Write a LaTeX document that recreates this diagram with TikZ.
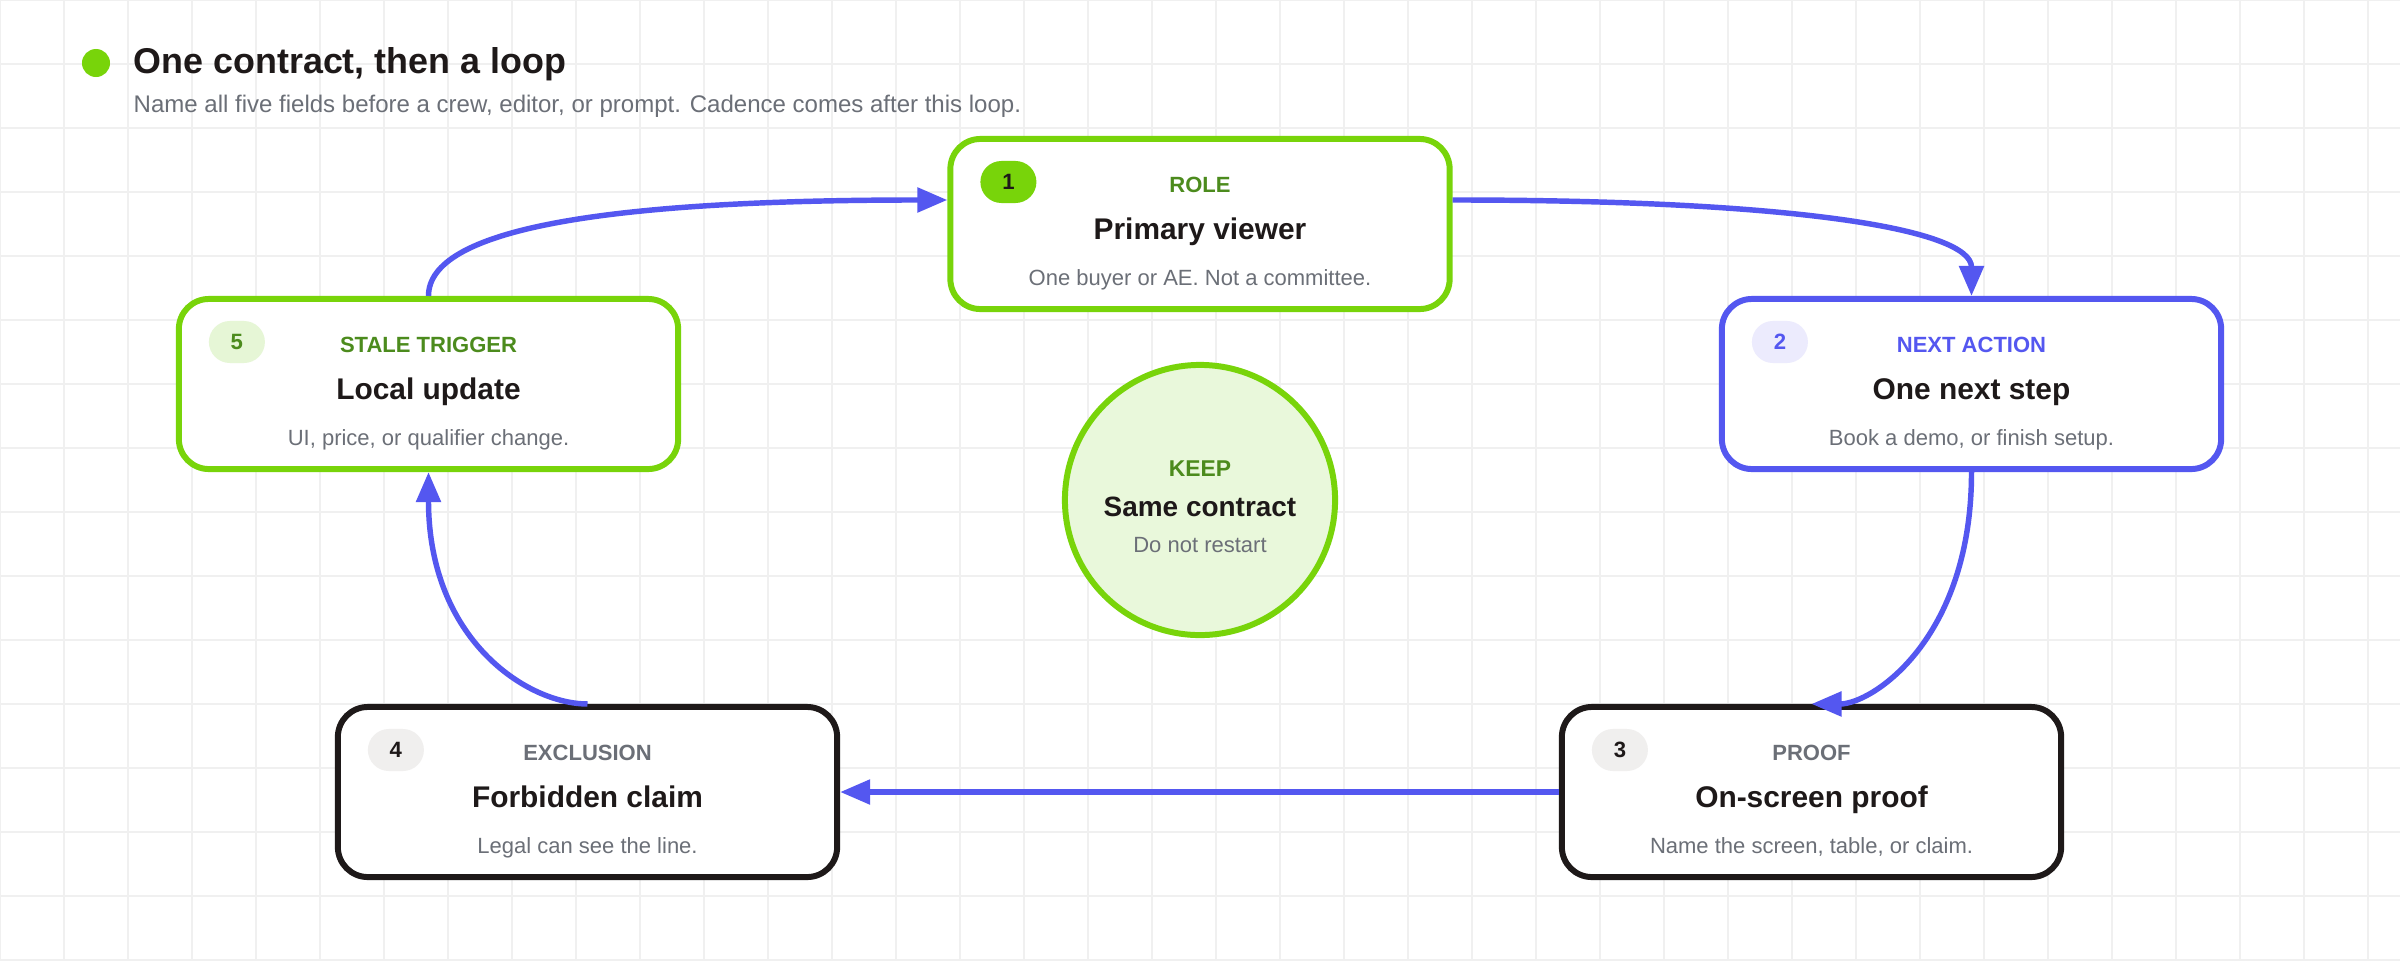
\documentclass[tikz,border=0pt]{standalone}
\usepackage{fontspec}
\setmainfont{Liberation Sans}
\usepackage{xcolor}
\usetikzlibrary{arrows.meta}

\definecolor{LoopGreen}{HTML}{78D40A}
\definecolor{LeafGreen}{HTML}{4C8B1D}
\definecolor{PaleGreen}{HTML}{E9F8DB}
\definecolor{BadgeGreen}{HTML}{E6F6D6}
\definecolor{Flow}{HTML}{5457F0}
\definecolor{PaleFlow}{HTML}{ECEBFD}
\definecolor{Ink}{HTML}{1E1919}
\definecolor{Muted}{HTML}{6B6F77}
\definecolor{PaleInk}{HTML}{F0EFEE}
\definecolor{Grid}{HTML}{F0F0F0}

\begin{document}
\begin{tikzpicture}[x=0.01cm, y=-0.01cm,
	card/.style={draw, line width=1.7pt, rounded corners=0.3cm, fill=white, minimum width=4.99cm, minimum height=1.70cm, inner sep=0},
	badge/.style={rounded corners=0.21cm, minimum width=0.56cm, minimum height=0.42cm, inner sep=0, font=\fontsize{6.3}{7}\selectfont\bfseries},
	tag/.style={anchor=base, inner sep=0, font=\fontsize{6.26}{7}\selectfont\bfseries},
	head/.style={anchor=base, inner sep=0, text=Ink, font=\fontsize{8.5}{10}\selectfont\bfseries},
	note/.style={anchor=base, inner sep=0, text=Muted, font=\fontsize{6.26}{7}\selectfont},
	flow/.style={draw=Flow, line width=1.55pt, -{Triangle[length=0.3cm,width=0.24cm]}}]
% background and grid
\useasboundingbox (0,0) rectangle (2400,960);
\fill[white] (0,0) rectangle (2400,960);
\foreach \gx in {0,64,...,2400} \draw[Grid, line width=0.35pt] (\gx,0) -- (\gx,960);
\foreach \gy in {0,64,...,960} \draw[Grid, line width=0.35pt] (0,\gy) -- (2400,\gy);
% title
\node[circle, fill=LoopGreen, minimum size=0.28cm, inner sep=0] (dot) at (96,63) {};
\node[anchor=base west, inner sep=0, text=Ink, font=\fontsize{10.2}{12}\selectfont\bfseries] (title) at (133,73) {One contract, then a loop};
\node[anchor=base west, inner sep=0, text=Muted, font=\fontsize{6.83}{8}\selectfont] (subtitle) at (133,112) {Name all five fields before a crew, editor, or prompt. Cadence comes after this loop.};
% role
\node[card, draw=LoopGreen] (role) at (1200,224) {};
\node[badge, fill=LoopGreen, text=Ink] (role-num) at ([xshift=0.61cm,yshift=-0.46cm]role.north west) {1};
\node[tag, text=LeafGreen] (role-tag) at ([yshift=0.315cm]role.center) {ROLE};
\node[head] (role-head) at ([yshift=-0.155cm]role.center) {Primary viewer};
\node[note] (role-note) at ([yshift=-0.615cm]role.center) {One buyer or AE. Not a committee.};
% next action
\node[card, draw=Flow] (next) at (1971.5,384) {};
\node[badge, fill=PaleFlow, text=Flow] (next-num) at ([xshift=0.61cm,yshift=-0.46cm]next.north west) {2};
\node[tag, text=Flow] (next-tag) at ([yshift=0.315cm]next.center) {NEXT ACTION};
\node[head] (next-head) at ([yshift=-0.155cm]next.center) {One next step};
\node[note] (next-note) at ([yshift=-0.615cm]next.center) {Book a demo, or finish setup.};
% proof
\node[card, draw=Ink] (proof) at (1811.5,792) {};
\node[badge, fill=PaleInk, text=Ink] (proof-num) at ([xshift=0.61cm,yshift=-0.46cm]proof.north west) {3};
\node[tag, text=Muted] (proof-tag) at ([yshift=0.315cm]proof.center) {PROOF};
\node[head] (proof-head) at ([yshift=-0.155cm]proof.center) {On-screen proof};
\node[note] (proof-note) at ([yshift=-0.615cm]proof.center) {Name the screen, table, or claim.};
% exclusion
\node[card, draw=Ink] (excl) at (587.5,792) {};
\node[badge, fill=PaleInk, text=Ink] (excl-num) at ([xshift=0.61cm,yshift=-0.46cm]excl.north west) {4};
\node[tag, text=Muted] (excl-tag) at ([yshift=0.315cm]excl.center) {EXCLUSION};
\node[head] (excl-head) at ([yshift=-0.155cm]excl.center) {Forbidden claim};
\node[note] (excl-note) at ([yshift=-0.615cm]excl.center) {Legal can see the line.};
% stale trigger
\node[card, draw=LoopGreen] (stale) at (428.5,384) {};
\node[badge, fill=BadgeGreen, text=LeafGreen] (stale-num) at ([xshift=0.61cm,yshift=-0.46cm]stale.north west) {5};
\node[tag, text=LeafGreen] (stale-tag) at ([yshift=0.315cm]stale.center) {STALE TRIGGER};
\node[head] (stale-head) at ([yshift=-0.155cm]stale.center) {Local update};
\node[note] (stale-note) at ([yshift=-0.615cm]stale.center) {UI, price, or qualifier change.};
% keep
\node[circle, draw=LoopGreen, fill=PaleGreen, line width=1.7pt, minimum size=2.70cm] (keep) at (1200,500) {};
\node[tag, text=LeafGreen, font=\fontsize{6.5}{7}\selectfont\bfseries] (keep-tag) at ([yshift=0.24cm]keep.center) {KEEP};
\node[head, font=\fontsize{7.95}{9}\selectfont\bfseries] (keep-head) at ([yshift=-0.16cm]keep.center) {Same contract};
\node[note] (keep-note) at ([yshift=-0.52cm]keep.center) {Do not restart};
% loop
\draw[flow] ([yshift=0.24cm]role.east) .. controls +(348,0) and +(0,-66) .. (next.north);
\draw[flow] (next.south) .. controls +(0,168) and +(60,0) .. (proof.north);
\draw[flow] (proof.west) -- (excl.east);
\draw[flow] (excl.north) .. controls +(-60,0) and +(0,168) .. (stale.south);
\draw[flow] (stale.north) .. controls +(0,-66) and +(-348,0) .. ([yshift=0.24cm]role.west);
\end{tikzpicture}
\end{document}
